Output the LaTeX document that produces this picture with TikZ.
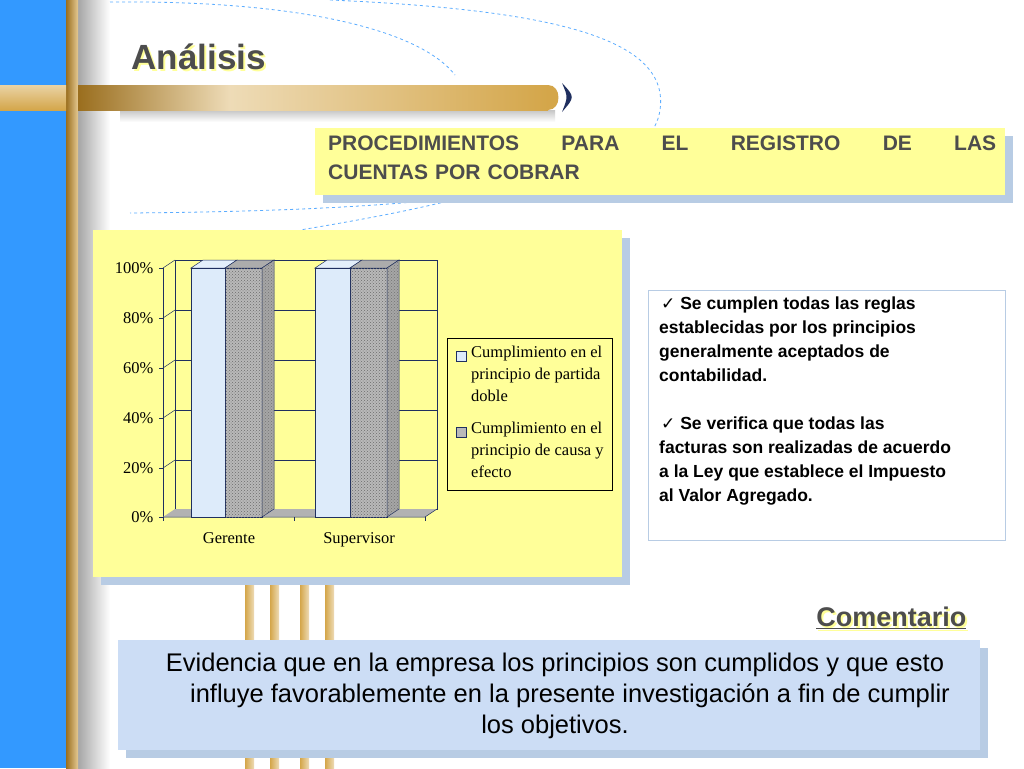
\documentclass[tikz,border=0pt]{standalone}
\usepackage{fontspec}
\setmainfont{Liberation Sans}
\newfontfamily\serifchart{Liberation Serif}
\newfontfamily\djv{DejaVu Sans}
\usetikzlibrary{patterns}
\definecolor{sideblue}{HTML}{3399FF}
\definecolor{gold}{HTML}{D4A64A}
\definecolor{goldd}{HTML}{9A6E1E}
\definecolor{paleyel}{HTML}{FFFF99}
\definecolor{shadowblue}{HTML}{B8CCE4}
\definecolor{combox}{HTML}{CCDDF5}
\definecolor{txtgray}{HTML}{4D4D4D}
\definecolor{navy}{HTML}{1F2F5F}
\definecolor{barblue}{HTML}{DDEBFA}
\tikzset{
  dash curve/.style={draw=sideblue!80, dashed, line width=0.8pt},
  ybox/.style={fill=paleyel, draw=none},
  shad/.style={fill=shadowblue, draw=none},
  grid line/.style={draw=navy, line width=0.5pt},
  lbl/.style={font=\serifchart\fontsize{16.5}{22}\selectfont, text=black},
}
\newcommand{\chk}{{\djv\fontsize{17}{17}\selectfont ✓}\ }
\begin{document}
\begin{tikzpicture}[x=1pt,y=-1pt]
\useasboundingbox (0,0) rectangle (1024,768);
\fill[white] (0,0) rectangle (1024,768);
% left side
\fill[sideblue] (0,0) rectangle (66,768);
\shade[left color=gray!70, right color=white] (78,0) rectangle (110,768);
\shade[left color=goldd, right color=gold!60, shading angle=90] (66,0) rectangle (78,768);
% horizontal bar shadow + bar
\shade[top color=gray!45, bottom color=white] (120,110) rectangle (555,122);
\shade[top color=gold!50, bottom color=gold] (0,85) rectangle (66,110);
\shade[left color=goldd, right color=gold!40] (78,85) rectangle (230,110);
\shade[left color=gold!40, right color=gold] (230,85) rectangle (548,110);
\fill[gold] (548,85) .. controls (562,85) and (562,110) .. (548,110) -- cycle;
\fill[navy] (562,83) .. controls (575,97) .. (562,112) .. controls (568,97) .. (562,83);
% dashed curves
\draw[dash curve] (110,2) .. controls (300,0) and (420,30) .. (455,75);
\draw[dash curve] (330,0) .. controls (560,10) and (670,40) .. (660,110) .. controls (650,180) and (500,210) .. (130,213);
\draw[dash curve] (470,195) .. controls (420,210) and (330,225) .. (300,230);
% title
\node[anchor=west, font=\bfseries\fontsize{35}{36}\selectfont, text=paleyel] (titsh) at (130,59) {Análisis};
\node[anchor=west, font=\bfseries\fontsize{35}{36}\selectfont, text=txtgray] (title) at (128,57) {Análisis};
% header box
\fill[shad] (323,136) rectangle (1013,203);
\fill[ybox] (315,128) rectangle (1005,195);
\node[anchor=north west, text width=668pt, align=left, inner sep=0pt, font=\bfseries\fontsize{21}{29}\selectfont, text=txtgray] (head) at (328,136) {PROCEDIMIENTOS\hfill PARA\hfill EL\hfill REGISTRO\hfill DE\hfill LAS\\CUENTAS POR COBRAR};
% gold legs
\foreach \xx in {245,270,300,325}{
  \shade[left color=gold, right color=gold!40] (\xx,570) rectangle (\xx+9,768);
}
% chart box
\fill[shad] (101,238) rectangle (630,585);
\fill[ybox] (93,230) rectangle (622,577);
% back wall grid
\draw[grid line] (175,260) -- (175,509) -- (437,509) -- (437,260) -- cycle;
\foreach \v [count=\i from 0] in {260,310,360,410,460}{
  \draw[grid line] (175,\v) -- (437,\v);
  \draw[grid line] (163,\v+8) -- (175,\v);
}
\draw[grid line] (163,268) -- (163,517);
% floor
\fill[gray!60] (163,517) -- (425,517) -- (437,509) -- (175,509) -- cycle;
\draw[grid line] (163,517) -- (425,517) -- (437,509);
\foreach \v/\t in {268/100\%,318/80\%,368/60\%,418/40\%,468/20\%,517/0\%}{
  \draw[grid line] (159,\v) -- (163,\v);
  \node[lbl, anchor=east] at (157,\v) {\t};
}
\foreach \xx in {163,294,425}{\draw[grid line] (\xx,517) -- (\xx,521);}
% bars
\foreach \a/\b/\c in {191/225/262,315/350/387}{
  \fill[barblue!80!white, draw=navy, line width=0.5pt] (\a,268) -- (\a+12,260) -- (\b+12,260) -- (\b,268) -- cycle;
  \fill[barblue, draw=navy, line width=0.5pt] (\a,268) rectangle (\b,517);
  \fill[gray!65, draw=navy, line width=0.5pt] (\b,268) -- (\b+12,260) -- (\c+12,260) -- (\c,268) -- cycle;
  \fill[gray!55, draw=navy, line width=0.5pt] (\b,268) rectangle (\c,517);
  \fill[pattern=crosshatch dots, pattern color=gray!85!black] (\b,268) rectangle (\c,517);
  \fill[gray!70, draw=navy, line width=0.5pt] (\c,268) -- (\c+12,260) -- (\c+12,509) -- (\c,517) -- cycle;
  \fill[pattern=crosshatch dots, pattern color=gray!90!black] (\c,268) -- (\c+12,260) -- (\c+12,509) -- (\c,517) -- cycle;
}
\node[lbl, anchor=base] (g) at (229,543) {Gerente};
\node[lbl, anchor=base] (s) at (359,543) {Supervisor};
% legend
\draw[black, line width=0.6pt] (447,338) rectangle (612,490);
\fill[barblue, draw=navy, line width=0.4pt] (456,351) rectangle (466,361);
\fill[gray!55, draw=navy, line width=0.4pt] (456,427) rectangle (466,437);
\node[lbl, anchor=north west, inner sep=0pt, align=left] (l1) at (471,346) {Cumplimiento en el\\principio de partida\\doble};
\node[lbl, anchor=north west, inner sep=0pt, align=left] (l2) at (471,422) {Cumplimiento en el\\principio de causa y\\efecto};
% right text box
\draw[fill=white, draw=shadowblue, line width=1pt] (648,290) rectangle (1005,540);
\node[anchor=north west, inner sep=0pt, align=left, font=\bfseries\fontsize{17.5}{24}\selectfont, text=black] (rt) at (659,297)
 {\hspace*{2pt}\chk Se cumplen todas las reglas\\establecidas por los principios\\generalmente aceptados de\\contabilidad.\\[24pt]
 \hspace*{2pt}\chk Se verifica que todas las\\facturas son realizadas de acuerdo\\a la Ley que establece el Impuesto\\al Valor Agregado.};
% Comentario
\node[anchor=east, font=\bfseries\fontsize{27}{28}\selectfont, text=paleyel] at (972,620) {\underline{Comentario}};
\node[anchor=east, font=\bfseries\fontsize{27}{28}\selectfont, text=txtgray] (com) at (970,618) {\underline{Comentario}};
% comment box
\fill[shad] (126,648) rectangle (988,758);
\fill[combox] (118,640) rectangle (980,750);
\node[align=center, font=\fontsize{25.5}{31}\selectfont, text=black] (ct) at (555,696) {Evidencia que en la empresa los principios son cumplidos y que esto\\\hspace*{30pt}influye favorablemente en la presente investigación a fin de cumplir\\los objetivos.};
\end{tikzpicture}
\end{document}
